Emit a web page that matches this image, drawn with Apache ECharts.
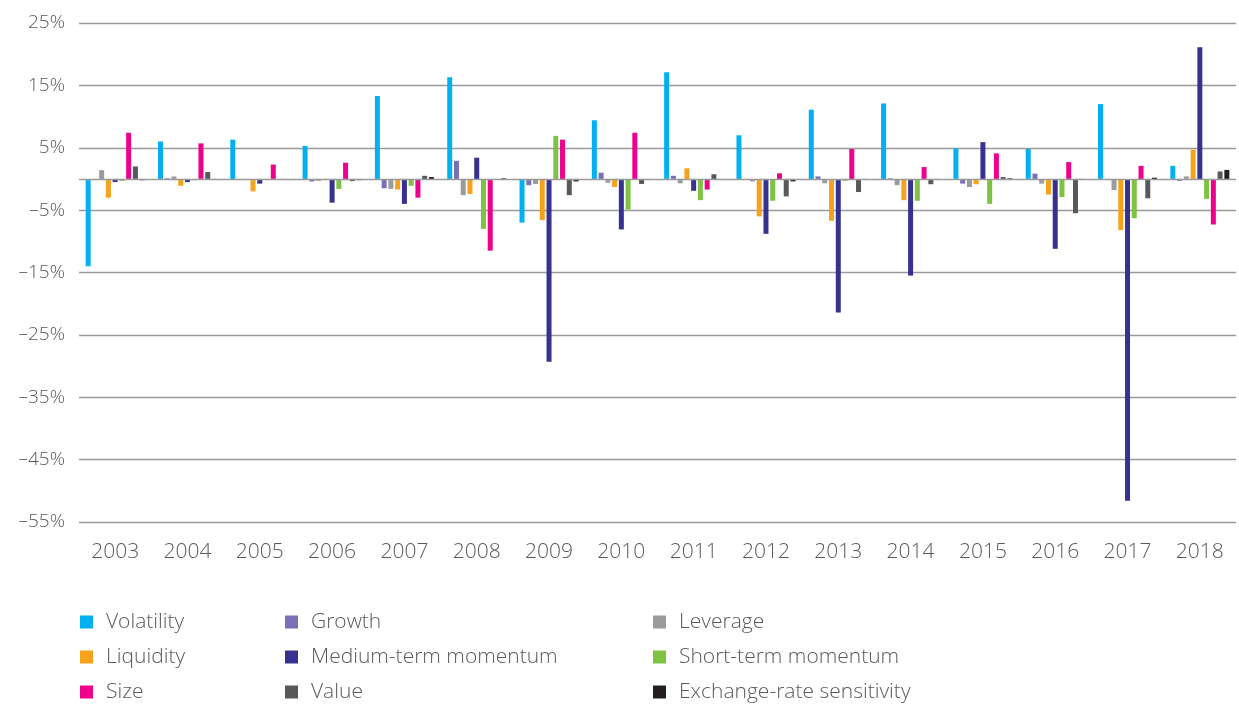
<!DOCTYPE html>
<html>
<head>
<meta charset="utf-8">
<script src="https://cdn.jsdelivr.net/npm/echarts@6/dist/echarts.min.js"></script>
<style>
  html, body { margin: 0; padding: 0; background: #fff; }
  #chart { width: 1239px; height: 704px; }
</style>
</head>
<body>
<div id="chart"></div>
<script>
  // years on the x axis
  const years = ['2003', '2004', '2005', '2006', '2007', '2008', '2009', '2010',
    '2011', '2012', '2013', '2014', '2015', '2016', '2017', '2018']

  // factor returns per year, in %
  const volatility = [-14.0, 6.0, 6.3, 5.3, 13.3, 16.3, -7.0, 9.4, 17.1, 7.0, 11.1, 12.1, 4.9, 4.8, 12.0, 2.1]
  const growth = [-0.1, 0.1, -0.1, -0.4, -1.5, 2.9, -1.0, 1.0, 0.5, -0.1, 0.4, 0.1, -0.75, 0.85, -0.1, -0.3]
  const leverage = [1.4, 0.4, -0.1, -0.3, -1.6, -2.6, -0.8, -0.6, -0.7, -0.4, -0.7, -1.0, -1.3, -0.75, -1.8, 0.4]
  const liquidity = [-3.0, -1.1, -2.0, -0.1, -1.7, -2.4, -6.6, -1.3, 1.7, -6.0, -6.7, -3.4, -0.85, -2.5, -8.2, 4.7]
  const mediumMomentum = [-0.5, -0.5, -0.75, -3.8, -4.0, 3.4, -29.3, -8.1, -1.9, -8.8, -21.4, -15.5, 5.9, -11.2, -51.6, 21.1]
  const shortMomentum = [-0.3, -0.2, -0.1, -1.6, -1.1, -8.0, 6.9, -4.9, -3.4, -3.5, -0.3, -3.5, -4.0, -2.9, -6.3, -3.2]
  const size = [7.4, 5.7, 2.3, 2.6, -3.0, -11.5, 6.3, 7.4, -1.7, 0.9, 4.8, 1.9, 4.1, 2.7, 2.1, -7.3]
  const value = [2.0, 1.1, -0.1, -0.35, 0.5, -0.1, -2.6, -0.8, 0.75, -2.8, -2.1, -0.85, 0.3, -5.5, -3.1, 1.2]
  const exchangeRate = [-0.2, -0.15, -0.1, -0.2, 0.3, 0.1, -0.4, -0.1, -0.1, -0.4, -0.1, -0.1, 0.1, -0.1, 0.2, 1.45]

  const seriesList = [
    { name: 'Volatility', data: volatility, color: '#00b0f0' },
    { name: 'Growth', data: growth, color: '#7b6fb5' },
    { name: 'Leverage', data: leverage, color: '#9b9b9d' },
    { name: 'Liquidity', data: liquidity, color: '#f7a21b' },
    { name: 'Medium-term momentum', data: mediumMomentum, color: '#37318f' },
    { name: 'Short-term momentum', data: shortMomentum, color: '#7dc242' },
    { name: 'Size', data: size, color: '#ec008c' },
    { name: 'Value', data: value, color: '#58585a' },
    { name: 'Exchange-rate sensitivity', data: exchangeRate, color: '#231f20' },
  ]

  const font = '"Open Sans", Lato, sans-serif'
  const textColor = '#5a5a5a'

  // three legend columns, like the original layout
  const legendBase = {
    orient: 'vertical',
    top: 611,
    padding: 0,
    itemWidth: 13,
    itemHeight: 13,
    itemGap: 13,
    icon: 'rect',
    textStyle: { fontSize: 21, lineHeight: 22, color: textColor, fontFamily: font, fontWeight: 300, padding: [0, 0, 0, 8] },
  }

  const chart = echarts.init(document.getElementById('chart'))
  chart.setOption({
    animation: false,
    textStyle: { fontFamily: font },
    legend: [
      Object.assign({ left: 80, data: ['Volatility', 'Liquidity', 'Size'] }, legendBase),
      Object.assign({ left: 285, data: ['Growth', 'Medium-term momentum', 'Value'] }, legendBase),
      Object.assign({ left: 653, data: ['Leverage', 'Short-term momentum', 'Exchange-rate sensitivity'] }, legendBase),
    ],
    grid: {
      top: 23,
      left: 79,
      right: 3,
      bottom: 182,
    },
    xAxis: {
      type: 'category',
      data: years,
      axisLine: { show: false, onZero: false },
      axisTick: { show: false },
      axisLabel: { fontSize: 21, color: textColor, margin: 20, fontWeight: 300, fontFamily: font },
    },
    yAxis: {
      type: 'value',
      min: -55,
      max: 25,
      interval: 10,
      axisLine: { show: false },
      axisTick: { show: false },
      splitLine: { lineStyle: { color: '#9a9a9a', width: 1.3 } },
      axisLabel: {
        fontSize: 19,
        color: textColor,
        margin: 14,
        fontWeight: 300,
        fontFamily: font,
        formatter: (v) => (v < 0 ? '\u2013' + Math.abs(v) : v) + '%',
      },
    },
    series: seriesList.map((s, i) => {
      const item = {
        name: s.name,
        type: 'bar',
        data: s.data,
        barWidth: 5,
        barGap: '35%',
        itemStyle: { color: s.color },
      }
      // zero line across the plot
      if (i === 0) {
        item.markLine = {
          silent: true,
          symbol: 'none',
          label: { show: false },
          lineStyle: { color: '#9a9a9a', width: 1.3, type: 'solid' },
          data: [{ yAxis: 0 }],
        }
      }
      return item
    }),
  })
</script>
</body>
</html>
